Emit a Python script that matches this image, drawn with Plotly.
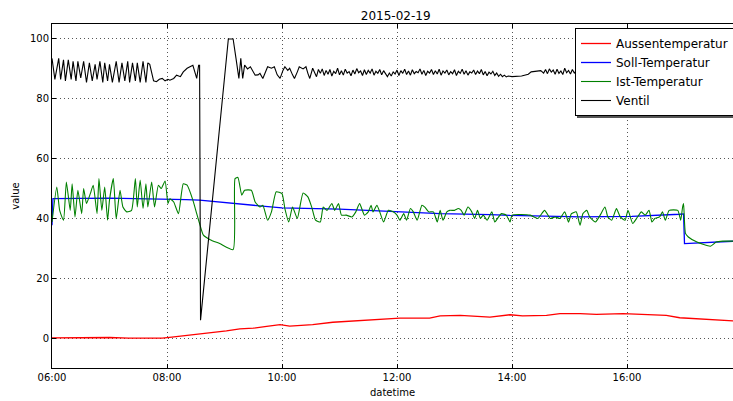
import datetime as dt
import plotly.graph_objects as go

DAY = "2015-02-19"
BASE = dt.datetime(2015, 2, 19, 6, 0)

# minutes after 06:00 and values
aussen_t = [0, 20, 40, 60, 80, 100, 115, 125, 140, 154, 168, 182, 196, 210, 224, 238, 248, 260, 272, 293,
            321, 350, 363, 394, 405, 426, 457, 478, 491, 516, 530, 551, 568, 596, 627, 641, 655, 676, 690, 712]
aussen_v = [0.1, 0.2, 0.1, 0.2, 0.0, -0.1, 0.0, 0.3, 0.8, 1.5, 1.8, 2.4, 3.1, 3.3, 3.9, 4.5, 4.0, 4.2, 4.5, 5.3,
            5.9, 6.5, 6.7, 6.7, 7.4, 7.6, 7.0, 7.8, 7.4, 7.6, 8.2, 8.2, 7.9, 8.2, 7.8, 7.6, 6.8, 6.3, 6.2, 5.7]

soll_t = [0, 1, 60, 120, 140, 154, 189, 206, 240, 300, 360, 405, 457, 478, 551, 605, 655, 659, 660, 690, 712]
soll_v = [37.7, 46.6, 46.8, 46.6, 46.3, 46.1, 45.0, 44.4, 43.5, 43.1, 42.2, 41.6, 41.3, 41.0, 40.5, 40.7, 41.4,
          41.5, 31.6, 32.1, 32.4]

ist_t = [0, 5, 8, 12, 15, 19, 21, 24, 27, 31, 33, 36, 40, 43, 47, 49, 52, 55, 58, 60, 64, 67, 71, 74, 78, 83,
         87, 89, 92, 95, 98, 100, 104, 107, 111, 114, 118, 121, 123, 127, 132, 137, 141, 147, 151, 154, 158,
         165, 175, 189, 191, 194, 198, 201, 208, 212, 217, 220, 225, 229, 234, 240, 243, 247, 251, 256, 262,
         267, 271, 275, 280, 283, 287, 292, 295, 299, 302, 307, 313, 317, 321, 326, 330, 333, 335, 339, 342,
         346, 351, 356, 360, 363, 367, 370, 374, 377, 381, 386, 389, 393, 398, 402, 405, 408, 412, 415, 420,
         424, 427, 430, 434, 438, 441, 444, 447, 450, 454, 459, 462, 466, 469, 474, 478, 480, 499, 507, 514,
         520, 525, 530, 535, 539, 542, 547, 551, 554, 558, 561, 567, 572, 577, 580, 584, 589, 593, 598, 601,
         606, 610, 615, 619, 623, 626, 629, 634, 637, 640, 644, 653, 656, 658, 659, 661, 664, 673, 687, 693,
         700, 712]
ist_v = [38.8, 50.5, 42.7, 39.4, 52.2, 42.7, 51.6, 40.5, 49.4, 41.6, 50.0, 45.0, 48.3, 51.1, 41.6, 53.3, 42.7,
         50.5, 39.4, 46.1, 53.3, 39.9, 49.4, 43.8, 42.2, 42.7, 53.3, 43.8, 52.8, 43.3, 51.6, 43.8, 52.2, 43.8,
         51.1, 50.0, 52.5, 45.0, 46.6, 45.5, 41.6, 51.6, 51.1, 46.1, 41.6, 38.3, 34.4, 32.9, 31.6, 29.6, 53.3,
         53.7, 47.8, 49.4, 49.4, 45.5, 43.8, 44.4, 39.4, 42.2, 48.9, 48.3, 43.3, 38.8, 43.8, 40.0, 48.5, 47.2,
         43.8, 39.4, 38.8, 43.8, 42.7, 45.0, 42.7, 45.0, 41.1, 41.1, 40.5, 42.2, 45.0, 41.1, 42.2, 44.4, 42.2,
         44.4, 42.2, 38.8, 42.7, 42.2, 41.1, 39.4, 41.6, 39.4, 43.3, 42.2, 39.4, 44.4, 43.8, 42.2, 42.2, 38.8,
         42.7, 39.4, 42.2, 42.7, 42.7, 43.3, 42.7, 41.1, 43.8, 42.2, 40.0, 42.7, 40.0, 41.1, 39.4, 42.2, 38.8,
         40.5, 41.6, 41.1, 38.8, 41.1, 41.1, 40.0, 42.7, 40.0, 40.5, 40.0, 42.2, 38.8, 41.6, 42.2, 37.7, 41.6,
         42.7, 40.5, 38.8, 41.1, 43.8, 40.5, 39.4, 43.3, 40.5, 39.4, 42.7, 38.3, 40.0, 42.2, 41.1, 42.7, 38.8,
         40.0, 40.5, 42.2, 39.4, 42.7, 42.7, 39.4, 43.8, 45.0, 35.0, 33.8, 32.1, 30.7, 32.1, 32.4, 32.4]

ventil_t = [0, 3, 7, 9, 12, 14, 17, 20, 22, 25, 27, 30, 33, 36, 39, 42, 45, 47, 50, 53, 55, 58, 60, 63, 67, 70,
            73, 76, 79, 81, 84, 87, 89, 92, 95, 98, 100, 102, 106, 109, 112, 115, 118, 121, 123, 125, 127, 130,
            134, 137, 141, 144, 147, 151, 153, 154, 155, 184, 189, 192, 195, 197, 199, 201, 204, 207, 212, 215,
            217, 220, 223, 225, 229, 232, 235, 238, 241, 243, 246, 248, 251, 253, 256, 258, 262, 265, 267, 269,
            272, 274, 276, 278,
            280, 282, 284, 286, 288, 290, 292, 294, 296, 298, 300, 302, 304, 306, 308, 310, 312, 314, 316, 318,
            320, 322, 324, 326, 328, 330, 332, 334, 336, 338, 340, 342, 344, 346, 348, 350, 352, 354, 356, 358,
            360, 362, 364, 366, 368, 370, 372, 374, 376, 378, 380, 382, 384, 386, 388, 390, 392, 394, 396, 398,
            400, 402, 404, 406, 408, 410, 412, 414, 416, 418, 420, 422, 424, 426, 428, 430, 432, 434, 436, 438,
            440, 442, 444, 446, 448, 450, 452, 454, 456, 458, 460, 462, 464, 466, 468, 470, 472, 474, 476,
            480, 490, 497, 500, 505, 510, 513, 515, 517, 519, 521, 523, 525, 527, 529, 531, 533, 535, 537, 539,
            541, 543, 545, 547, 555, 565, 575, 590, 605, 620, 635, 650, 665, 680, 695, 712]
ventil_v = [93.5, 86.5, 93.5, 86.5, 93.0, 86.0, 93.0, 86.5, 92.5, 86.0, 92.5, 87.0, 92.5, 85.5, 92.0, 86.0, 91.5,
            86.5, 92.5, 85.5, 92.0, 86.0, 91.5, 85.5, 92.5, 85.5, 92.0, 86.0, 92.5, 85.5, 92.0, 86.0, 92.0, 85.5,
            92.5, 85.5, 92.0, 91.5, 86.0, 85.7, 86.5, 86.8, 86.0, 86.5, 86.2, 86.4, 86.8, 87.9, 87.4, 89.0, 90.2,
            90.7, 91.2, 86.8, 91.2, 91.2, 6.0, 100.0, 100.0, 93.5, 86.8, 93.5, 86.8, 91.3, 90.0, 90.7, 87.9, 88.0,
            88.5, 86.8, 89.0, 90.7, 90.2, 90.7, 88.0, 86.8, 89.5, 90.7, 89.5, 90.2, 88.0, 86.8, 89.0, 90.7, 90.0,
            90.7, 88.5, 86.8, 90.2, 88.5, 87.4, 89.8,
            88.5, 90.0, 87.8, 89.5, 88.2, 89.8, 87.6, 89.2, 88.4, 90.2, 88.0, 89.4, 87.9, 89.9, 88.6, 89.1, 87.7,
            89.6, 88.3, 90.1, 88.7, 89.3, 87.8, 89.7, 88.1, 89.5, 88.6, 90.0, 87.9, 89.2, 88.5, 89.8, 88.0, 89.4,
            88.2, 87.4, 88.6, 87.6, 89.0, 88.3, 89.6, 87.8, 89.4, 88.5, 89.9, 88.1, 89.3, 87.9, 89.7, 88.4, 89.1,
            88.7, 90.0, 88.2, 89.5, 87.8, 89.2, 88.6, 89.8, 88.1, 89.4, 88.3, 89.9, 87.9, 89.3, 88.6, 89.6, 88.0,
            89.1, 88.4, 89.7, 87.8, 89.2, 88.5, 89.9, 88.2, 89.4, 87.9, 89.0, 88.6, 89.6, 88.1, 89.3, 88.4, 89.8,
            88.0, 89.1, 87.7, 88.9, 88.3, 89.2, 87.8, 88.6, 87.5, 88.2, 87.4, 87.9, 87.3, 87.6,
            87.4, 87.6, 88.2, 89.0, 89.2, 89.4, 88.6, 89.8, 88.4, 90.0, 88.9, 89.6, 88.2, 89.9, 88.5, 89.3, 88.1,
            90.2, 88.7, 89.5, 88.3, 89.8, 88.6, 89.4, 88.8, 89.5, 88.4, 89.3, 88.7, 89.6, 88.5, 89.2, 88.9, 89.4,
            88.6, 89.0]

x_ticks = ["06:00", "08:00", "10:00", "12:00", "14:00", "16:00"]
y_ticks = [0, 20, 40, 60, 80, 100]

FONT = "DejaVu Sans"


def to_time(mins):
    return [BASE + dt.timedelta(minutes=m) for m in mins]


fig = go.Figure()
series = [
    ("Aussentemperatur", aussen_t, aussen_v, "#ff0000", 1.3, "linear"),
    ("Soll-Temperatur", soll_t, soll_v, "#0000ff", 1.3, "linear"),
    ("Ist-Temperatur", ist_t, ist_v, "#008000", 1.1, "spline"),
    ("Ventil", ventil_t, ventil_v, "#000000", 1.1, "linear"),
]
for name, t, v, color, w, shp in series:
    line = dict(color=color, width=w, shape=shp)
    if shp == "spline":
        line["smoothing"] = 0.5
    fig.add_trace(go.Scatter(x=to_time(t), y=v, mode="lines", name=name, line=line))

W, H = 733, 401
L, R, T, B = 52, 0, 24, 33
PW, PH = W - L - R, H - T - B

LEG_TOP = 28

fig.update_layout(
    width=W, height=H,
    margin=dict(l=L, r=R, t=T, b=B, autoexpand=False),
    paper_bgcolor="white", plot_bgcolor="white",
    font=dict(family=FONT, size=10, color="black"),
    title=dict(text=DAY, font=dict(size=12, color="black"), x=395.7 / W, xref="container",
               xanchor="center", y=1 - 15.5 / H, yref="container", yanchor="middle"),
    showlegend=True,
    legend=dict(x=(575 - L) / PW, y=(H - B - LEG_TOP) / PH, xanchor="left", yanchor="top",
                bgcolor="white", bordercolor="black", borderwidth=1,
                font=dict(size=12, color="black", family=FONT), tracegroupgap=0),
)

fig.update_xaxes(
    type="date",
    range=[BASE, BASE + dt.timedelta(minutes=710.6)],
    tickvals=[dt.datetime.strptime(DAY + " " + s, "%Y-%m-%d %H:%M") for s in x_ticks],
    ticktext=x_ticks,
    ticks="inside", ticklen=4, tickcolor="black", tickwidth=1,
    showline=True, linecolor="black", linewidth=1, mirror="ticks",
    showgrid=True, gridcolor="#555555", gridwidth=1, griddash="1px,3px",
    zeroline=False, automargin=False,
    title=dict(text="datetime", font=dict(size=10), standoff=6),
    tickfont=dict(size=10, color="black"),
)
fig.update_yaxes(
    range=[-10, 105],
    tickvals=y_ticks,
    ticks="inside", ticklen=4, tickcolor="black", tickwidth=1,
    showline=True, linecolor="black", linewidth=1, mirror=False,
    showgrid=True, gridcolor="#555555", gridwidth=1, griddash="1px,3px",
    zeroline=False, automargin=False,
    title=dict(text="value", font=dict(size=10), standoff=8),
    tickfont=dict(size=10, color="black"),
)

# legend drop shadow (matplotlib shadow=True look)
fig.add_shape(type="rect", xref="paper", yref="paper", layer="above",
              x0=(577 - L) / PW, x1=1.02,
              y0=(H - B - (LEG_TOP + 90)) / PH, y1=(H - B - (LEG_TOP + 3)) / PH,
              fillcolor="#555555", line=dict(width=0))

fig.write_html("out.html", config={"displayModeBar": False},
               post_script="document.body.style.margin='0';document.body.style.overflow='hidden';")
